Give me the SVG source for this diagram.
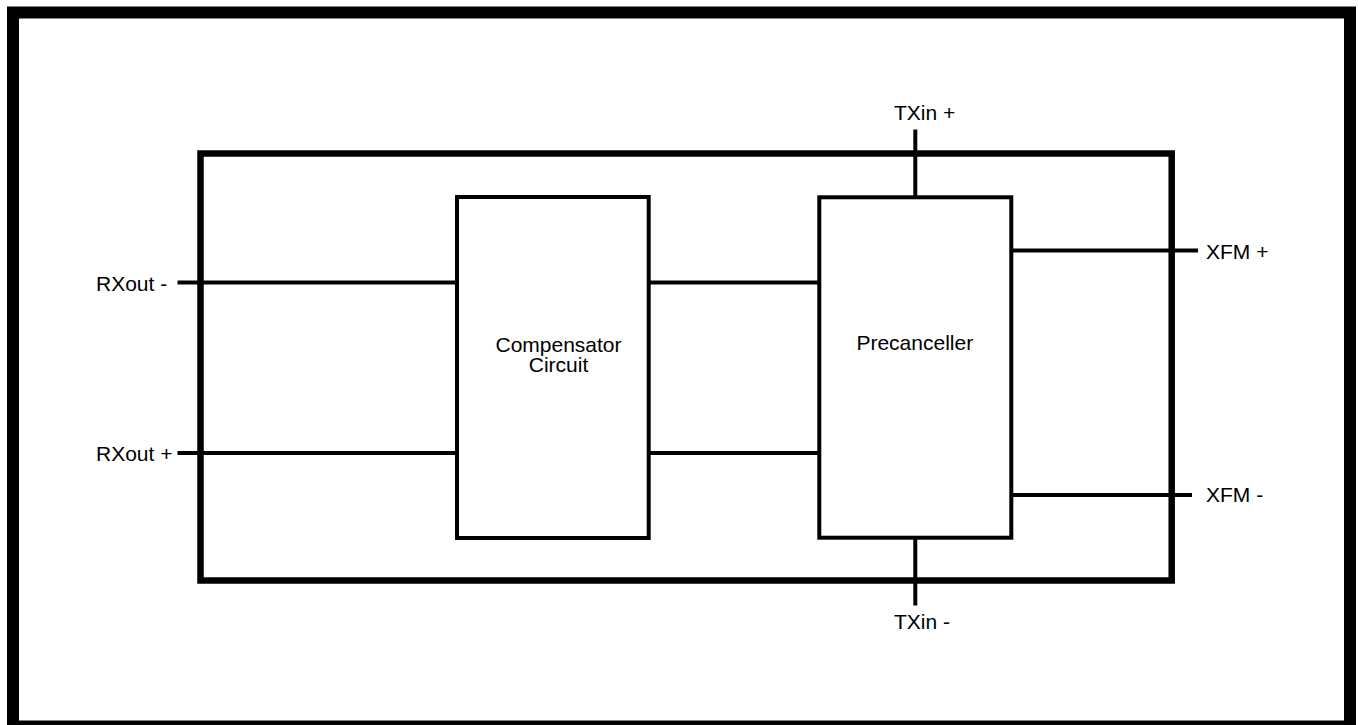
<svg xmlns="http://www.w3.org/2000/svg" width="1358" height="725" viewBox="0 0 1358 725">
<style>
  .frame{fill:none;stroke:#000;stroke-width:12}
  .outer{fill:none;stroke:#000;stroke-width:6.5}
  .box{fill:#fff;stroke:#000;stroke-width:4}
  .wire{fill:none;stroke:#000;stroke-width:4}
  text{font-family:"Liberation Sans",Arial,sans-serif;font-size:21px;fill:#000}
</style>
<rect x="0" y="0" width="1358" height="725" fill="#fff"/>
<rect class="frame" x="13" y="12.5" width="1337" height="714"/>
<g id="connectors">
  <line class="wire" x1="177.5" y1="282.5" x2="457" y2="282.5"/>
  <line class="wire" x1="177.5" y1="453" x2="457" y2="453"/>
  <line class="wire" x1="649" y1="282.5" x2="819" y2="282.5"/>
  <line class="wire" x1="649" y1="453" x2="819" y2="453"/>
  <line class="wire" x1="915.3" y1="129.5" x2="915.3" y2="197"/>
  <line class="wire" x1="915.3" y1="538" x2="915.3" y2="605.5"/>
  <line class="wire" x1="1011" y1="250.5" x2="1198" y2="250.5"/>
  <line class="wire" x1="1011" y1="495" x2="1192" y2="495"/>
</g>
<g id="module">
  <rect class="outer" x="200.5" y="153.5" width="971.2" height="427"/>
</g>
<g id="compensator">
  <rect class="box" x="457" y="197" width="191.7" height="341"/>
  <text x="558.5" y="351.7" text-anchor="middle">Compensator</text>
  <text x="558.5" y="372.3" text-anchor="middle">Circuit</text>
</g>
<g id="precanceller">
  <rect class="box" x="819.3" y="197.3" width="192" height="340.4"/>
  <text x="914.8" y="350" text-anchor="middle">Precanceller</text>
</g>
<g id="labels">
  <text x="96" y="291">RXout -</text>
  <text x="96" y="461">RXout +</text>
  <text x="894" y="120">TXin +</text>
  <text x="894" y="629">TXin -</text>
  <text x="1206" y="258.5">XFM +</text>
  <text x="1206" y="502">XFM -</text>
</g>
</svg>
